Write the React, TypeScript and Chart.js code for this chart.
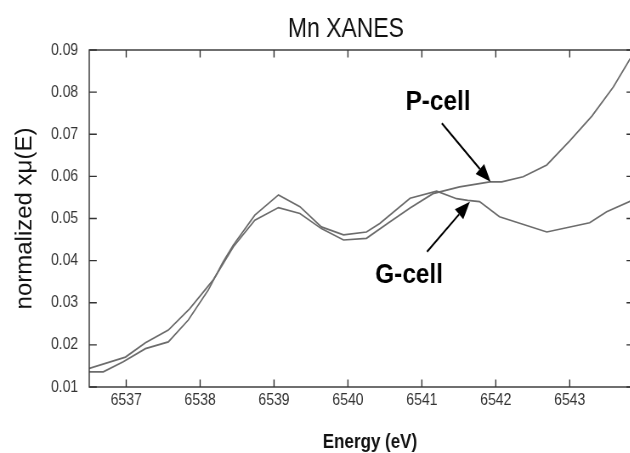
import React, { useEffect, useRef } from "react";
import { Chart, registerables } from "chart.js";

Chart.register(...registerables);

// ---------- data ----------
const chartTitle = "Mn XANES";
const xAxisTitle = "Energy (eV)";
const yAxisTitle = "normalized xμ(E)";
const seriesNames = ["P-cell", "G-cell"];

const pEnergy = [
  6536.5, 6536.99, 6537.26, 6537.57, 6537.86, 6538.18, 6538.45, 6538.74, 6539.06,
  6539.35, 6539.64, 6539.94, 6540.25, 6540.55, 6540.84, 6541.15, 6541.51, 6541.92,
  6542.08, 6542.37, 6542.69, 6543.0, 6543.3, 6543.59, 6543.82,
];
const pValues = [
  0.0144, 0.0171, 0.0205, 0.0235, 0.0286, 0.0355, 0.0433, 0.0496, 0.0526,
  0.0512, 0.0476, 0.0449, 0.0453, 0.049, 0.0525, 0.0559, 0.0575, 0.0587,
  0.0587, 0.0599, 0.0627, 0.0684, 0.0743, 0.0812, 0.088,
];

const gEnergy = [
  6536.5, 6536.69, 6536.96, 6537.26, 6537.57, 6537.84, 6538.11, 6538.31, 6538.45,
  6538.74, 6539.06, 6539.35, 6539.64, 6539.94, 6540.25, 6540.43, 6540.84, 6541.2,
  6541.47, 6541.62, 6541.78, 6542.05, 6542.69, 6543.27, 6543.5, 6543.87,
];
const gValues = [
  0.0136, 0.0136, 0.016, 0.0191, 0.0207, 0.0259, 0.033, 0.0397, 0.0437,
  0.0508, 0.0556, 0.0528, 0.048, 0.0461, 0.0468, 0.0488, 0.0548, 0.0565,
  0.0547, 0.0543, 0.054, 0.0504, 0.0468, 0.049, 0.0516, 0.0545,
];

const xTickValues = [6537, 6538, 6539, 6540, 6541, 6542, 6543];
const yTickValues = [0.01, 0.02, 0.03, 0.04, 0.05, 0.06, 0.07, 0.08, 0.09];

// annotation anchors in data coordinates
const annotations = [
  { text: "P-cell", textAt: [6540.78, 0.0758], tail: [6541.27, 0.0726], tip: [6541.93, 0.0587] },
  { text: "G-cell", textAt: [6540.37, 0.0346], tail: [6541.07, 0.0421], tip: [6541.65, 0.054] },
];

// ---------- layout ----------
const S = 0.85; // horizontal squeeze of the drawing
const VIEW_W = 634;
const VIEW_H = 453;
const CANVAS_W = Math.round(VIEW_W / S);
const FONT = "'Liberation Sans', Arial, Helvetica, sans-serif";
const LINE = "#6c6c6c";

const overlay = {
  id: "overlay",
  afterDraw(chart: any) {
    const { ctx, chartArea: a, scales } = chart;
    const x = scales.x;
    const y = scales.y;
    ctx.save();
    // frame
    ctx.strokeStyle = "#333";
    ctx.lineWidth = 1.4;
    ctx.strokeRect(a.left, a.top, a.right - a.left - 0.5, a.bottom - a.top);
    // inward ticks
    const tv = 7.5;
    const th = 7.5 / S;
    ctx.beginPath();
    for (const v of xTickValues) {
      const px = x.getPixelForValue(v);
      ctx.moveTo(px, a.bottom);
      ctx.lineTo(px, a.bottom - tv);
      ctx.moveTo(px, a.top);
      ctx.lineTo(px, a.top + tv);
    }
    for (const v of yTickValues) {
      const py = y.getPixelForValue(v);
      ctx.moveTo(a.left, py);
      ctx.lineTo(a.left + th, py);
      ctx.moveTo(a.right, py);
      ctx.lineTo(a.right - th, py);
    }
    ctx.stroke();

    // title
    ctx.fillStyle = "#111";
    ctx.textAlign = "center";
    ctx.textBaseline = "alphabetic";
    ctx.font = `27px ${FONT}`;
    ctx.fillText(chartTitle, 346 / S, 36.5);

    // x axis title
    ctx.font = `bold 20px ${FONT}`;
    ctx.fillText(xAxisTitle, 370 / S, 448);

    // y axis title
    ctx.save();
    ctx.translate(25 / S, (a.top + a.bottom) / 2);
    ctx.rotate(-Math.PI / 2);
    ctx.scale(1, 1 / S);
    ctx.textBaseline = "middle";
    ctx.font = `24px ${FONT}`;
    ctx.fillText(yAxisTitle, 0, 0);
    ctx.restore();

    // annotations
    ctx.textAlign = "left";
    ctx.textBaseline = "alphabetic";
    ctx.font = `bold 27px ${FONT}`;
    ctx.fillStyle = "#000";
    ctx.strokeStyle = "#000";
    for (const an of annotations) {
      ctx.save();
      ctx.translate(x.getPixelForValue(an.textAt[0]), y.getPixelForValue(an.textAt[1]));
      ctx.scale(1.06, 1);
      ctx.fillText(an.text, 0, 0);
      ctx.restore();
      const x0 = x.getPixelForValue(an.tail[0]);
      const y0 = y.getPixelForValue(an.tail[1]);
      const x1 = x.getPixelForValue(an.tip[0]);
      const y1 = y.getPixelForValue(an.tip[1]);
      const ang = Math.atan2(y1 - y0, x1 - x0);
      const hl = 18;
      const hw = 7;
      const bx = x1 - hl * Math.cos(ang);
      const by = y1 - hl * Math.sin(ang);
      ctx.lineWidth = 2;
      ctx.beginPath();
      ctx.moveTo(x0, y0);
      ctx.lineTo(bx, by);
      ctx.stroke();
      ctx.beginPath();
      ctx.moveTo(x1, y1);
      ctx.lineTo(bx + hw * Math.sin(ang), by - hw * Math.cos(ang));
      ctx.lineTo(bx - hw * Math.sin(ang), by + hw * Math.cos(ang));
      ctx.closePath();
      ctx.fill();
    }
    ctx.restore();
  },
};

export default function App() {
  const ref = useRef<HTMLCanvasElement>(null);

  useEffect(() => {
    const canvas = ref.current;
    if (!canvas) return;
    const chart = new Chart(canvas, {
      type: "line",
      data: {
        datasets: [
          {
            label: seriesNames[0],
            data: pEnergy.map((e, i) => ({ x: e, y: pValues[i] })),
            borderColor: LINE,
            borderWidth: 1.7,
            pointRadius: 0,
            tension: 0,
            fill: false,
          },
          {
            label: seriesNames[1],
            data: gEnergy.map((e, i) => ({ x: e, y: gValues[i] })),
            borderColor: LINE,
            borderWidth: 1.7,
            pointRadius: 0,
            tension: 0,
            fill: false,
          },
        ],
      },
      options: {
        responsive: false,
        animation: false,
        devicePixelRatio: 1,
        layout: { padding: { top: 50, left: 0, right: 0, bottom: 0 } },
        plugins: {
          legend: { display: false },
          tooltip: { enabled: false },
          title: { display: false },
        },
        scales: {
          x: {
            type: "linear",
            position: "bottom",
            min: 6536.5,
            max: 6543.87,
            grid: { display: false, drawTicks: false },
            border: { display: false },
            ticks: {
              color: "#333",
              font: { family: FONT, size: 16.5 },
              padding: 4,
              maxRotation: 0,
              autoSkip: false,
              callback: (v: any) => String(v),
            },
            afterBuildTicks: (s: any) => {
              s.ticks = xTickValues.map((v) => ({ value: v }));
            },
            afterFit: (s: any) => {
              s.height = 66;
            },
          },
          y: {
            type: "linear",
            min: 0.01,
            max: 0.09,
            grid: { display: false, drawTicks: false },
            border: { display: false },
            ticks: {
              color: "#333",
              font: { family: FONT, size: 16.5 },
              padding: 13,
              autoSkip: false,
              callback: (v: any) => Number(v).toFixed(2),
            },
            afterBuildTicks: (s: any) => {
              s.ticks = yTickValues.map((v) => ({ value: v }));
            },
            afterFit: (s: any) => {
              s.width = 105;
            },
          },
        },
      },
      plugins: [overlay],
    });
    return () => chart.destroy();
  }, []);

  return (
    <div
      style={{
        position: "fixed",
        left: 0,
        top: 0,
        width: 630,
        height: VIEW_H,
        overflow: "hidden",
        background: "#fff",
      }}
    >
      <canvas
        ref={ref}
        width={CANVAS_W}
        height={VIEW_H}
        style={{ width: VIEW_W + "px", height: VIEW_H + "px", display: "block" }}
      />
    </div>
  );
}
